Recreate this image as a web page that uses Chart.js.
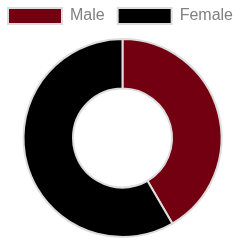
<!DOCTYPE html>
<html><head><meta charset="utf-8">
<script src="https://cdn.jsdelivr.net/npm/chart.js@4"></script>
<style>html,body{margin:0;padding:0;background:#fff;overflow:hidden}#wrap{width:245px;height:244px}</style>
</head><body><div id="wrap"><canvas id="c"></canvas></div>
<script>
const categories = ["Male", "Female"];
const values = [41.6, 58.4];
const colors = ["#730010", "#000000"];
new Chart(document.getElementById('c'), {
  type: 'doughnut',
  data: { labels: categories, datasets: [{ data: values, backgroundColor: colors, borderColor: '#dddddd', borderWidth: 2 }] },
  options: {
    responsive: true, maintainAspectRatio: false, animation: false,
    cutout: '50%',
    radius: 99,
    layout: { padding: { top: -5, left: -6, right: -2, bottom: 2 } },
    plugins: {
      legend: { position: 'top', labels: { boxWidth: 54, padding: 13, color: '#808080', font: { size: 16, family: 'Liberation Sans, Arial, sans-serif' } } },
      tooltip: { enabled: false }
    }
  }
});
</script></body></html>
